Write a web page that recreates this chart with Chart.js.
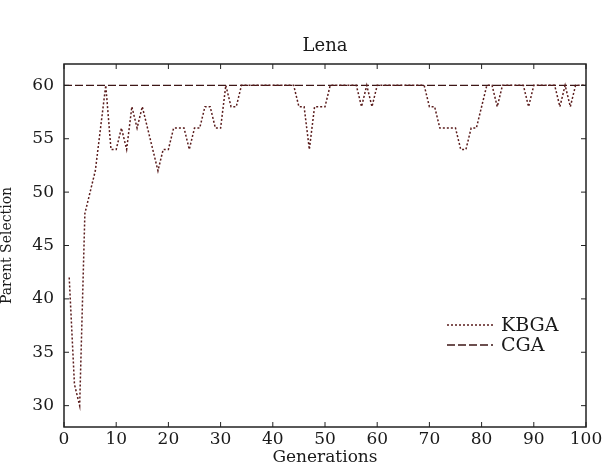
<!DOCTYPE html>
<html>
<head>
<meta charset="utf-8">
<script src="https://cdn.jsdelivr.net/npm/chart.js@4"></script>
<style>
  html, body { margin: 0; padding: 0; background: #fff; }
  #wrap { width: 606px; height: 466px; }
</style>
</head>
<body>
<div id="wrap"><canvas id="chart" width="606" height="466"></canvas></div>
<script>
const generations = [
  1, 2, 3, 4, 5, 6, 7, 8, 9, 10,
  11, 12, 13, 14, 15, 16, 17, 18, 19, 20,
  21, 22, 23, 24, 25, 26, 27, 28, 29, 30,
  31, 32, 33, 34, 35, 36, 37, 38, 39, 40,
  41, 42, 43, 44, 45, 46, 47, 48, 49, 50,
  51, 52, 53, 54, 55, 56, 57, 58, 59, 60,
  61, 62, 63, 64, 65, 66, 67, 68, 69, 70,
  71, 72, 73, 74, 75, 76, 77, 78, 79, 80,
  81, 82, 83, 84, 85, 86, 87, 88, 89, 90,
  91, 92, 93, 94, 95, 96, 97, 98, 99, 100
];
const kbgaValues = [
  42, 32, 30, 48, 50, 52, 56, 60, 54, 54,
  56, 54, 58, 56, 58, 56, 54, 52, 54, 54,
  56, 56, 56, 54, 56, 56, 58, 58, 56, 56,
  60, 58, 58, 60, 60, 60, 60, 60, 60, 60,
  60, 60, 60, 60, 58, 58, 54, 58, 58, 58,
  60, 60, 60, 60, 60, 60, 58, 60, 58, 60,
  60, 60, 60, 60, 60, 60, 60, 60, 60, 58,
  58, 56, 56, 56, 56, 54, 54, 56, 56, 58,
  60, 60, 58, 60, 60, 60, 60, 60, 58, 60,
  60, 60, 60, 60, 58, 60, 58, 60, 60, 60
];
// CGA stays flat at 60 across the whole run
const cgaGenerations = [0, 100];
const cgaValues = [60, 60];

const xTicks = [0, 10, 20, 30, 40, 50, 60, 70, 80, 90, 100];
const yTicks = [30, 35, 40, 45, 50, 55, 60];

const chartTitle = "Lena";
const serif = "'DejaVu Serif', serif";
const inkColor = "#1a1a1a";

// title over the plot, frame with inward ticks on every side, legend inside the plot
const frameAndLegend = {
  id: "frameAndLegend",
  afterDatasetsDraw(chart) {
    const { ctx, chartArea: a, scales } = chart;
    const x = scales.x;
    const y = scales.y;
    ctx.save();

    ctx.fillStyle = inkColor;
    ctx.font = "18px " + serif;
    ctx.textAlign = "center";
    ctx.textBaseline = "middle";
    ctx.fillText(chartTitle, (a.left + a.right) / 2, a.top - 18);

    ctx.strokeStyle = "#222";
    ctx.lineWidth = 1.5;
    ctx.strokeRect(a.left, a.top, a.right - a.left, a.bottom - a.top);

    ctx.lineWidth = 1;
    ctx.beginPath();
    x.ticks.forEach((t) => {
      const px = x.getPixelForValue(t.value);
      ctx.moveTo(px, a.bottom);
      ctx.lineTo(px, a.bottom - 5);
      ctx.moveTo(px, a.top);
      ctx.lineTo(px, a.top + 5);
    });
    y.ticks.forEach((t) => {
      const py = y.getPixelForValue(t.value);
      ctx.moveTo(a.left, py);
      ctx.lineTo(a.left + 5, py);
      ctx.moveTo(a.right, py);
      ctx.lineTo(a.right - 5, py);
    });
    ctx.stroke();

    // legend
    const lx0 = a.right - 139;
    const lx1 = a.right - 93;
    const tx = a.right - 85;
    const rows = [a.bottom - 102, a.bottom - 82];
    chart.data.datasets.forEach((ds, i) => {
      const ly = rows[i];
      ctx.strokeStyle = ds.borderColor;
      ctx.lineWidth = ds.borderWidth;
      ctx.setLineDash(ds.borderDash);
      ctx.beginPath();
      ctx.moveTo(lx0, ly);
      ctx.lineTo(lx1, ly);
      ctx.stroke();
      ctx.setLineDash([]);
      ctx.fillStyle = inkColor;
      ctx.font = "19px " + serif;
      ctx.textBaseline = "middle";
      ctx.textAlign = "left";
      ctx.fillText(ds.label, tx, ly + 1);
    });
    ctx.restore();
  },
};

new Chart(document.getElementById("chart"), {
  type: "line",
  data: {
    datasets: [
      {
        label: "KBGA",
        data: generations.map((g, i) => ({ x: g, y: kbgaValues[i] })),
        borderColor: "#5a1c1c",
        borderWidth: 1.5,
        borderDash: [2, 2],
        pointRadius: 0,
        tension: 0,
        fill: false,
      },
      {
        label: "CGA",
        data: cgaGenerations.map((g, i) => ({ x: g, y: cgaValues[i] })),
        borderColor: "#3d1616",
        borderWidth: 1.3,
        borderDash: [8, 3],
        pointRadius: 0,
        tension: 0,
        fill: false,
      },
    ],
  },
  options: {
    responsive: false,
    animation: false,
    layout: { padding: { left: 0, right: 20, top: 64, bottom: 0 } },
    plugins: {
      legend: { display: false },
      tooltip: { enabled: false },
      title: { display: false },
    },
    scales: {
      x: {
        type: "linear",
        min: 0,
        max: 100,
        afterBuildTicks: (scale) => {
          scale.ticks = xTicks.map((v) => ({ value: v }));
        },
        afterFit: (scale) => {
          scale.height = 39;
        },
        grid: { display: false, drawTicks: false },
        border: { display: false },
        ticks: {
          color: inkColor,
          font: { family: serif, size: 17 },
          padding: 2,
          maxRotation: 0,
        },
        title: {
          display: true,
          text: "Generations",
          color: inkColor,
          font: { family: serif, size: 17, lineHeight: 1 },
          padding: 0,
        },
      },
      y: {
        type: "linear",
        min: 28,
        max: 62,
        afterBuildTicks: (scale) => {
          scale.ticks = yTicks.map((v) => ({ value: v }));
        },
        afterFit: (scale) => {
          scale.width = 64;
        },
        grid: { display: false, drawTicks: false },
        border: { display: false },
        ticks: {
          color: inkColor,
          font: { family: serif, size: 17 },
          padding: 10,
        },
        title: {
          display: true,
          text: "Parent Selection",
          color: inkColor,
          font: { family: serif, size: 14, lineHeight: 1 },
          padding: { top: 0, bottom: 11 },
        },
      },
    },
  },
  plugins: [frameAndLegend],
});
</script>
</body>
</html>
